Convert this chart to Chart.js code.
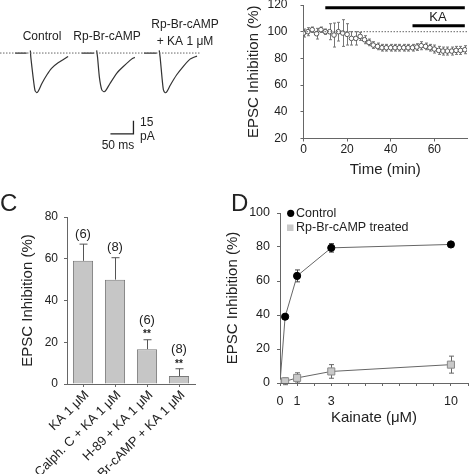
<!DOCTYPE html>
<html>
<head>
<meta charset="utf-8">
<script src="https://cdn.jsdelivr.net/npm/chart.js@4"></script>
<style>
  body { margin: 0; background: #fff; width: 474px; height: 474px; position: relative; overflow: hidden; font-family: "Liberation Sans", Arial, sans-serif; }
  canvas { position: absolute; }
  .tag { position: absolute; font-size: 24px; line-height: 24px; color: #222; }
</style>
</head>
<body>
<canvas id="chartA" width="237" height="200" style="left:0;top:0"></canvas>
<canvas id="chartB" width="237" height="200" style="left:237px;top:0"></canvas>
<canvas id="chartC" width="237" height="274" style="left:0;top:200px"></canvas>
<canvas id="chartD" width="259" height="274" style="left:215px;top:200px"></canvas>
<div class="tag" style="left:0;top:191px">C</div>
<div class="tag" style="left:231px;top:191px">D</div>

<script>
// ---- Panel A: example EPSC traces (ms, pA) ----
const ctrlTraceMs = [33, 46, 58, null, 66, 67, 72, 76, 80, 83, 91, 102, 112, 127, 148];
const ctrlTracePa = [0, 0, 0, null, 3, -5, -28, -43, -45.6, -44, -35, -25, -17.6, -11, -4];
const rpTraceMs = [178, 190, 204, null, 210, 212, 216, 221, 226, 230, 239, 254, 268, 286, 293];
const rpTracePa = [0, 0, 0, null, 3, -5, -28, -42, -44.5, -43, -35, -23, -15.5, -7, -5];
const rpKaTraceMs = [313, 326, 340, null, 346, 348, 352, 355, 359, 363, 370, 384, 398, 413, 428];
const rpKaTracePa = [0, 0, 0, null, 3, -5, -28, -42, -45.6, -44, -37, -25, -15.5, -7, -3.5];
const traceBaselineMs = [0, 435];
const scaleBarMs = [240, 290, 290];
const scaleBarPa = [-93, -93, -78];

// ---- Panel B: time course ----
const timeMin = [0, 2, 4, 6, 8, 10, 12, 14, 16, 18, 20, 22, 24, 26, 28, 30, 32, 34, 36, 38,
  40, 42, 44, 46, 48, 50, 52, 54, 56, 58, 60, 62, 64, 66, 68, 70, 72, 74];
const epscPercent = [99, 100, 101.5, 98.5, 101.5, 100, 100, 97.5, 100, 99, 98, 95, 95, 96.5, 94, 92, 90, 89, 88, 88,
  88, 88, 88, 88, 88, 88, 88.5, 89.5, 89, 88, 87, 86, 85.5, 85.5, 85.5, 86, 86, 86.5];
const epscErr = [3, 3, 2, 4, 2, 2, 6, 9, 7, 10, 8, 5, 5, 3, 3, 2.5, 2.5, 2.5, 2.5, 2.5,
  2.5, 2.5, 2.5, 2.5, 2.5, 2.5, 2.5, 3, 2.5, 2.5, 3, 3, 3, 3, 3, 3, 3, 3];
const refLineTimes = [0, 75];
const refLineValue = 100;
const drugBarTimes = [10, 74];
const drugBarLevel = 118;
const kaBarTimes = [50, 74];
const kaBarLevel = 104.5;

// ---- Panel C: bar summary ----
const cLabels = ['KA 1 μM', 'Calph. C + KA 1 μM', 'H-89 + KA 1 μM', 'Rp-Br-cAMP + KA 1 μM'];
const cValues = [59, 50, 16.7, 3.8];
const cErrors = [8, 10.5, 4.5, 3.5];
const cCounts = ['(6)', '(8)', '(6)', '(8)'];
const cStars = ['', '', '**', '**'];

// ---- Panel D: dose response ----
const kainateDose = [0, 0.3, 1, 3, 10];
const controlInhib = [0, 39, 63, 79.5, 81.5];
const controlErr = [0, 1, 3.5, 2.5, 1];
const rpInhib = [0, 1, 3, 6.8, 10.8];
const rpErr = [0, 2, 3, 4, 5];
const doseTicks = [0, 1, 2, 3, 4, 5, 6, 7, 8, 9, 10, 11];
const doseTickLabels = ['0', '1', '', '3', '', '', '', '', '', '', '10', ''];

const FONT = '"Liberation Sans", Arial, sans-serif';
const AXIS = '#666';
Chart.defaults.font.family = FONT;
Chart.defaults.color = '#222';

const xy = (xs, ys) => xs.map((x, i) => ({ x: x, y: ys[i] }));
const noPad = s => { s.paddingLeft = s.paddingRight = s.paddingTop = s.paddingBottom = 0; };

// error bars, drawn from each dataset's `errors`
const errorBars = {
  id: 'errorBars',
  beforeDatasetsDraw(chart) { drawErrors(chart, false); },
  afterDatasetsDraw(chart) { drawErrors(chart, true); }
};
function drawErrors(chart, after) {
  const ctx = chart.ctx;
  chart.data.datasets.forEach((ds, i) => {
    if (!ds.errors || !!ds.errorsAfter !== after) return;
    const meta = chart.getDatasetMeta(i);
    const ys = chart.scales[meta.yAxisID];
    ctx.save();
    ctx.strokeStyle = ds.errorColor || '#555';
    ctx.lineWidth = 1;
    meta.data.forEach((el, j) => {
      const e = ds.errors[j];
      if (!e) return;
      const v = typeof ds.data[j] === 'object' ? ds.data[j].y : ds.data[j];
      const x = Math.round(el.x) + 0.5;
      const top = ys.getPixelForValue(v + e);
      const bot = ys.getPixelForValue(ds.errorsUpOnly ? v : v - e);
      const c = ds.capHalf || 2;
      ctx.beginPath();
      ctx.moveTo(x, top); ctx.lineTo(x, bot);
      ctx.moveTo(x - c, top); ctx.lineTo(x + c, top);
      if (!ds.errorsUpOnly) { ctx.moveTo(x - c, bot); ctx.lineTo(x + c, bot); }
      ctx.stroke();
    });
    ctx.restore();
  });
}

function baseOpts() {
  return {
    responsive: false,
    animation: false,
    events: [],
    plugins: { legend: { display: false }, tooltip: { enabled: false } }
  };
}

// ---------- Panel A ----------
const traceStyle = { borderColor: '#333', borderWidth: 1.2, pointRadius: 0, tension: 0.2, fill: false };
new Chart(document.getElementById('chartA'), {
  type: 'line',
  data: {
    datasets: [
      { data: xy(traceBaselineMs, [0, 0]), borderColor: '#666', borderWidth: 1, borderDash: [1.5, 1.5], pointRadius: 0 },
      Object.assign({ data: xy(ctrlTraceMs, ctrlTracePa) }, traceStyle),
      Object.assign({ data: xy(rpTraceMs, rpTracePa) }, traceStyle),
      Object.assign({ data: xy(rpKaTraceMs, rpKaTracePa) }, traceStyle),
      { data: xy(scaleBarMs, scaleBarPa), borderColor: '#222', borderWidth: 1.3, pointRadius: 0 }
    ]
  },
  options: Object.assign(baseOpts(), {
    layout: { padding: 0 },
    scales: {
      x: { type: 'linear', min: 0, max: 515, display: false },
      y: { type: 'linear', min: -169, max: 61, display: false }
    }
  }),
  plugins: [{
    id: 'traceLabels',
    afterDraw(chart) {
      const ctx = chart.ctx;
      ctx.save();
      ctx.fillStyle = '#222';
      ctx.font = '12px ' + FONT;
      ctx.textAlign = 'center';
      ctx.textBaseline = 'middle';
      ctx.fillText('Control', 42, 37);
      ctx.fillText('Rp-Br-cAMP', 107, 37);
      ctx.fillText('Rp-Br-cAMP', 185, 25);
      ctx.fillText('+ KA 1 μM', 185, 42);
      ctx.fillText('50 ms', 118, 146);
      ctx.textAlign = 'left';
      ctx.fillText('15', 140, 123);
      ctx.fillText('pA', 140, 137);
      ctx.restore();
    }
  }]
});

// ---------- Panel B ----------
new Chart(document.getElementById('chartB'), {
  type: 'line',
  data: {
    datasets: [
      { data: xy(refLineTimes, refLineTimes.map(() => refLineValue)), borderColor: '#666', borderWidth: 1, borderDash: [1.5, 1.5], pointRadius: 0 },
      { data: xy(drugBarTimes, [drugBarLevel, drugBarLevel]), borderColor: '#000', borderWidth: 3, pointRadius: 0 },
      { data: xy(kaBarTimes, [kaBarLevel, kaBarLevel]), borderColor: '#000', borderWidth: 3, pointRadius: 0 },
      {
        data: xy(timeMin, epscPercent), showLine: false, pointRadius: 2.3, pointBorderWidth: 1,
        pointBorderColor: '#555', pointBackgroundColor: '#fff', errors: epscErr, errorColor: '#777', capHalf: 1.5
      }
    ]
  },
  options: Object.assign(baseOpts(), {
    layout: { padding: { left: 0, right: 7, top: 4, bottom: 21.5 } },
    scales: {
      x: {
        type: 'linear', min: 0, max: 75,
        ticks: { stepSize: 20, includeBounds: false, padding: 1, font: { size: 12 }, maxRotation: 0 },
        grid: { drawOnChartArea: false, tickLength: 3, color: AXIS },
        border: { color: AXIS },
        title: { display: true, text: 'Time (min)', font: { size: 15 }, padding: { top: 0, bottom: 0 } },
        afterFit: s => { s.height = 40; noPad(s); }
      },
      y: {
        type: 'linear', min: 20, max: 120,
        ticks: { stepSize: 20, padding: 13, font: { size: 12 } },
        grid: { drawOnChartArea: false, tickLength: 3, color: AXIS },
        border: { color: AXIS },
        title: { display: true, text: 'EPSC Inhibition (%)', font: { size: 15 }, padding: { top: 8, bottom: 0 } },
        afterFit: s => { s.width = 66.5; noPad(s); }
      }
    }
  }),
  plugins: [errorBars, {
    id: 'kaLabel',
    afterDraw(chart) {
      const ctx = chart.ctx;
      ctx.save();
      ctx.fillStyle = '#222';
      ctx.font = '13px ' + FONT;
      ctx.textAlign = 'center';
      ctx.textBaseline = 'middle';
      ctx.fillText('KA', chart.scales.x.getPixelForValue(61.7), chart.scales.y.getPixelForValue(110.5));
      ctx.restore();
    }
  }]
});

// ---------- Panel C ----------
new Chart(document.getElementById('chartC'), {
  type: 'bar',
  data: {
    labels: cLabels,
    datasets: [{
      data: cValues, backgroundColor: '#c6c6c6', borderColor: '#7a7a7a', borderWidth: 1,
      barPercentage: 0.63, categoryPercentage: 1,
      errors: cErrors, errorsUpOnly: true, errorsAfter: true, errorColor: '#555', capHalf: 4
    }]
  },
  options: Object.assign(baseOpts(), {
    layout: { padding: { left: 0, right: 42, top: 17, bottom: 0 } },
    scales: {
      x: {
        type: 'category',
        ticks: { display: false },
        grid: { drawOnChartArea: false, offset: false, tickLength: 3, color: AXIS },
        border: { color: AXIS },
        afterFit: s => { s.height = 90; noPad(s); }
      },
      y: {
        type: 'linear', min: 0, max: 80,
        ticks: { stepSize: 20, padding: 6, font: { size: 12 } },
        grid: { drawOnChartArea: false, tickLength: 3, color: AXIS },
        border: { color: AXIS },
        title: { display: true, text: 'EPSC Inhibition (%)', font: { size: 15 }, padding: { top: 18.5, bottom: 0 } },
        afterFit: s => { s.width = 67; noPad(s); }
      }
    }
  }),
  plugins: [errorBars, {
    id: 'barNotes',
    afterDraw(chart) {
      const ctx = chart.ctx;
      const xs = chart.scales.x, ys = chart.scales.y;
      ctx.save();
      ctx.fillStyle = '#222';
      ctx.textAlign = 'center';
      ctx.textBaseline = 'middle';
      cValues.forEach((v, i) => {
        const x = xs.getPixelForValue(i);
        const top = ys.getPixelForValue(v + cErrors[i]);
        ctx.font = '13px ' + FONT;
        if (cStars[i]) {
          ctx.fillText(cCounts[i], x, top - 19);
          ctx.font = 'bold 10px ' + FONT;
          ctx.fillText(cStars[i], x, top - 5);
        } else {
          ctx.fillText(cCounts[i], x, top - 10);
        }
        // rotated category labels
        ctx.save();
        ctx.font = '13px ' + FONT;
        ctx.translate(x + 4, ys.bottom + 9);
        ctx.rotate(-Math.PI / 4);
        ctx.textAlign = 'right';
        ctx.fillText(cLabels[i], 0, 0);
        ctx.restore();
      });
      ctx.restore();
    }
  }]
});

// ---------- Panel D ----------
new Chart(document.getElementById('chartD'), {
  type: 'line',
  data: {
    datasets: [
      {
        data: xy(kainateDose, rpInhib), borderColor: '#666', borderWidth: 1, tension: 0,
        pointStyle: 'rect', pointRadius: 5, pointBackgroundColor: '#c9c9c9', pointBorderColor: '#8a8a8a', pointBorderWidth: 1,
        errors: rpErr, errorColor: '#666', capHalf: 2.5
      },
      {
        data: xy(kainateDose, controlInhib), borderColor: '#666', borderWidth: 1, tension: 0,
        pointStyle: 'circle', pointRadius: 3.6, pointBackgroundColor: '#000', pointBorderColor: '#000', pointBorderWidth: 1,
        errors: controlErr, errorColor: '#444', capHalf: 2.5
      }
    ]
  },
  options: Object.assign(baseOpts(), {
    layout: { padding: { left: 0, right: 6, top: 13, bottom: 46 } },
    scales: {
      x: {
        type: 'linear', min: 0, max: 11,
        afterBuildTicks: s => { s.ticks = doseTicks.map(v => ({ value: v })); },
        ticks: { padding: 8, font: { size: 12.5 }, maxRotation: 0, autoSkip: false,
          callback: (v) => doseTickLabels[doseTicks.indexOf(v)] },
        grid: { drawOnChartArea: false, tickLength: 3, color: AXIS },
        border: { color: AXIS },
        title: { display: true, text: 'Kainate (μM)', font: { size: 15 }, padding: { top: 0, bottom: 1 } },
        afterFit: s => { s.height = 45; noPad(s); }
      },
      y: {
        type: 'linear', min: 0, max: 100,
        ticks: { stepSize: 20, padding: 7, font: { size: 12.5 } },
        grid: { drawOnChartArea: false, tickLength: 3, color: AXIS },
        border: { color: AXIS },
        title: { display: true, text: 'EPSC Inhibition (%)', font: { size: 15 }, padding: { top: 9, bottom: 0 } },
        afterFit: s => { s.width = 65; noPad(s); }
      }
    }
  }),
  plugins: [errorBars, {
    id: 'doseLegend',
    afterDraw(chart) {
      const ctx = chart.ctx;
      ctx.save();
      ctx.fillStyle = '#000';
      ctx.beginPath();
      ctx.arc(75.7, 13.3, 3.6, 0, Math.PI * 2);
      ctx.fill();
      ctx.fillStyle = '#c9c9c9';
      ctx.fillRect(72, 24.5, 6.5, 6.5);
      ctx.fillStyle = '#222';
      ctx.font = '12.5px ' + FONT;
      ctx.textBaseline = 'middle';
      ctx.fillText('Control', 81, 13.5);
      ctx.fillText('Rp-Br-cAMP treated', 81, 28);
      ctx.restore();
    }
  }]
});
</script>
</body>
</html>
